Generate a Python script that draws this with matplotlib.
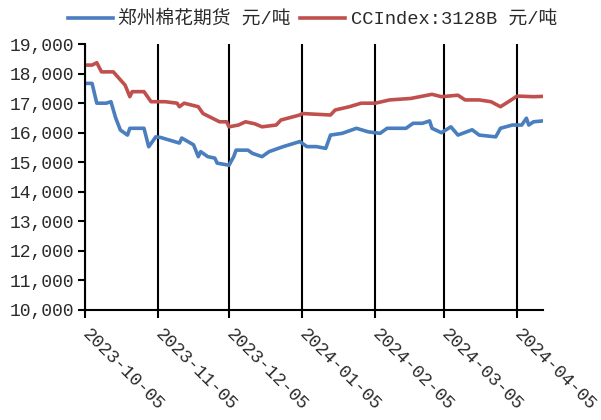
import pandas as pd
import matplotlib
matplotlib.use("Agg")
import matplotlib.pyplot as plt
import matplotlib.ticker as ticker

# 郑州棉花期货 (元/吨)
zce_dates = [
    "2023-10-05", "2023-10-08", "2023-10-10", "2023-10-14", "2023-10-16",
    "2023-10-18", "2023-10-20", "2023-10-23", "2023-10-24", "2023-10-30",
    "2023-11-01", "2023-11-04", "2023-11-06", "2023-11-14", "2023-11-15",
    "2023-11-20", "2023-11-22", "2023-11-23", "2023-11-26", "2023-11-29",
    "2023-11-30", "2023-12-05", "2023-12-07", "2023-12-08", "2023-12-13",
    "2023-12-15", "2023-12-19", "2023-12-22", "2023-12-28", "2024-01-04",
    "2024-01-07", "2024-01-11", "2024-01-15", "2024-01-17", "2024-01-22",
    "2024-01-28", "2024-02-02", "2024-02-07", "2024-02-10", "2024-02-18",
    "2024-02-21", "2024-02-25", "2024-02-28", "2024-02-29", "2024-03-04",
    "2024-03-08", "2024-03-11", "2024-03-17", "2024-03-20", "2024-03-27",
    "2024-03-29", "2024-04-03", "2024-04-07", "2024-04-09", "2024-04-10",
    "2024-04-12", "2024-04-16",
]
zce_values = [
    17670, 17670, 17000, 17000, 17050,
    16500, 16090, 15920, 16150, 16150,
    15525, 15860, 15840, 15650, 15820,
    15590, 15190, 15360, 15190, 15140,
    14970, 14900, 15190, 15410, 15410,
    15300, 15190, 15360, 15530, 15700,
    15530, 15530, 15470, 15920, 15980,
    16150, 16030, 15980, 16150, 16150,
    16320, 16320, 16400, 16150, 16000,
    16200, 15920, 16100, 15920, 15860,
    16150, 16260, 16260, 16490, 16260,
    16370, 16400,
]

# CCIndex:3128B (元/吨)
cci_dates = [
    "2023-10-05", "2023-10-08", "2023-10-10", "2023-10-12", "2023-10-17",
    "2023-10-22", "2023-10-24", "2023-10-25", "2023-10-30", "2023-11-02",
    "2023-11-08", "2023-11-13", "2023-11-14", "2023-11-16", "2023-11-22",
    "2023-11-24", "2023-11-28", "2023-12-01", "2023-12-04", "2023-12-05",
    "2023-12-09", "2023-12-12", "2023-12-16", "2023-12-19", "2023-12-25",
    "2023-12-27", "2024-01-04", "2024-01-05", "2024-01-17", "2024-01-19",
    "2024-01-25", "2024-01-30", "2024-02-05", "2024-02-11", "2024-02-20",
    "2024-02-29", "2024-03-04", "2024-03-11", "2024-03-14", "2024-03-20",
    "2024-03-25", "2024-03-29", "2024-04-02", "2024-04-05", "2024-04-12",
    "2024-04-16",
]
cci_values = [
    18290, 18290, 18370, 18060, 18060,
    17610, 17220, 17390, 17390, 17050,
    17050, 17000, 16880, 17000, 16880,
    16650, 16490, 16370, 16370, 16200,
    16260, 16370, 16300, 16200, 16260,
    16430, 16600, 16650, 16600, 16770,
    16880, 17000, 17000, 17110, 17160,
    17300, 17220, 17270, 17110, 17110,
    17050, 16880, 17080, 17240, 17220,
    17230,
]

tick_dates = ["2023-10-05", "2023-11-05", "2023-12-05", "2024-01-05",
              "2024-02-05", "2024-03-05", "2024-04-05"]

series_labels = ["郑州棉花期货 元/吨", "CCIndex:3128B 元/吨"]

fig = plt.figure(figsize=(6.01, 4.2), dpi=100)
ax = fig.add_axes([0.1414, 0.262, 0.762, 0.633])

ax.plot(pd.to_datetime(zce_dates), zce_values, color="#4a7ebf", lw=2.6,
        label=series_labels[0], solid_joinstyle="round")
ax.plot(pd.to_datetime(cci_dates), cci_values, color="#c0504d", lw=2.6,
        label=series_labels[1], solid_joinstyle="round")

ax.set_ylim(10000, 19000)
ax.set_xlim(pd.Timestamp("2023-10-05"), pd.Timestamp("2024-04-16"))
ax.yaxis.set_major_locator(ticker.MultipleLocator(1000))
ax.yaxis.set_major_formatter(ticker.FuncFormatter(lambda v, _: f"{int(v):,}"))

ticks = pd.to_datetime(tick_dates)
ax.set_xticks(ticks)
ax.set_xticklabels([d.strftime("%Y-%m-%d") for d in ticks], rotation=-45,
                   ha="left", va="center", rotation_mode="anchor")

ax.grid(axis="x", color="black", lw=1.5)
ax.tick_params(axis="x", direction="out", length=6, width=1.5, pad=9.5,
               labelsize=13, labelfontfamily="Liberation Mono", labelcolor="#2a2a2a")
ax.tick_params(axis="y", direction="out", length=5, width=1.5, pad=3,
               labelsize=13, labelfontfamily="Liberation Mono", labelcolor="#2a2a2a")

for side in ["top", "right"]:
    ax.spines[side].set_visible(False)
for side in ["left", "bottom"]:
    ax.spines[side].set_linewidth(1.5)

fig.legend(loc="upper center", bbox_to_anchor=(0.52, 1.015), ncol=2,
           frameon=False, handlelength=2.4, columnspacing=0.5, handletextpad=0.3,
           labelcolor="#2a2a2a",
           prop={"family": ["Liberation Mono", "Noto Sans CJK SC"], "size": 13.5})

fig.savefig("out.png", dpi=100)
plt.close()
